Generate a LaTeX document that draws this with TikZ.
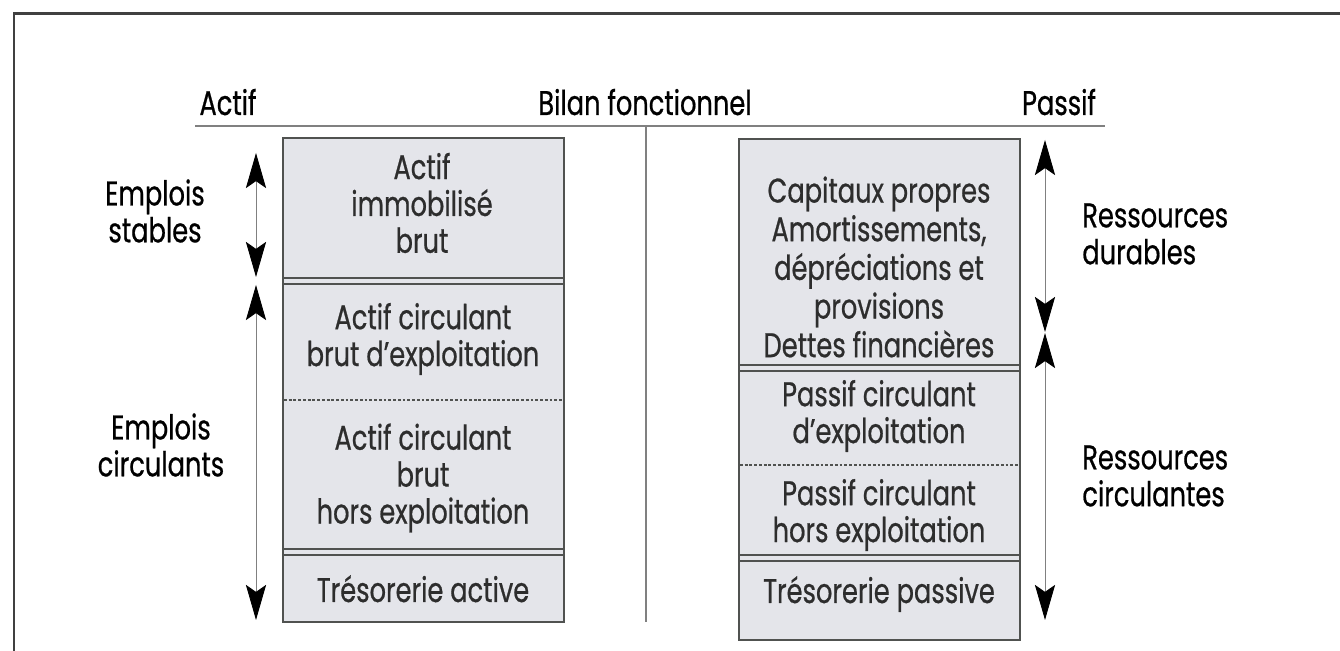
\documentclass[tikz,border=0pt]{standalone}
\usepackage{fontspec}
\setmainfont{Poppins}[FakeStretch=0.75, FakeBold=0.6]
\usepackage{tikz}
\usetikzlibrary{arrows.meta}
\usetikzlibrary{positioning}

\definecolor{boxfill}{RGB}{228,229,234}
\definecolor{boxline}{RGB}{80,82,80}
\definecolor{txtgray}{RGB}{45,45,45}

\begin{document}
\begin{tikzpicture}[x=0.02cm, y=-0.02cm]
	 \tikzstyle{txt}=[inner sep=0pt, align=center, font=\fontsize{19.5pt}{21pt}\selectfont]
	 \tikzstyle{boxtxt}=[txt, text=txtgray]
	 \tikzstyle{head}=[txt, text=black]
	 \tikzstyle{column}=[draw=boxline, line width=1.1pt, fill=boxfill]
	 \tikzstyle{dbl}=[draw=boxline, line width=0.8pt, double=boxfill, double distance=2.4pt]
	 \tikzstyle{dsh}=[draw=boxline, line width=0.6pt, dash pattern=on 1.6pt off 1.1pt]
	 \tikzstyle{rule}=[draw=gray, line width=0.8pt]
	 \tikzstyle{span}=[draw=gray, line width=0.5pt, {Stealth[length=20pt,width=11.5pt,inset=4pt,color=black]}-{Stealth[length=20pt,width=11.5pt,inset=4pt,color=black]}]
	 \useasboundingbox (0,0) rectangle (1340,651);

	 % cadre
	 \draw[draw=black!75, line width=1.7pt] (14,651) -- (14,14) -- (1340,14);

	 % en-tete
	 \node[head, anchor=base] (actif) at (228,115) {Actif};
	 \node[head, anchor=base] (bilan) at (645,115) {Bilan fonctionnel};
	 \node[head, anchor=base] (passif) at (1059,115) {Passif};
	 \draw[rule] (195,126) -- (1105,126);
	 \draw[rule] (646,126) -- (646,622);

	 % actif
	 \draw[column] (283,138) rectangle (564,622);
	 \draw[dbl] (284,281) -- (563,281);
	 \draw[dsh] (284,400) -- (563,400);
	 \draw[dbl] (284,552) -- (563,552);
	 \node[boxtxt] (immo) at (422,203) {Actif\\immobilisé\\brut};
	 \node[boxtxt] (acexp) at (423,339) {Actif circulant\\brut d'exploitation};
	 \node[boxtxt] (achors) at (423,478) {Actif circulant\\brut\\hors exploitation};
	 \node[boxtxt, anchor=base] (tresa) at (423,602) {Trésorerie active};

	 % passif
	 \draw[column] (739,139) rectangle (1020,640);
	 \draw[dbl] (740,368) -- (1019,368);
	 \draw[dsh] (740,465) -- (1019,465);
	 \draw[dbl] (740,558) -- (1019,558);
	 \node[boxtxt, font=\fontsize{19.5pt}{22pt}\selectfont] (capitaux) at (879,267) {Capitaux propres\\Amortissements,\\dépréciations et\\provisions\\Dettes financières};
	 \node[boxtxt] (pcexp) at (879,416) {Passif circulant\\d'exploitation};
	 \node[boxtxt] (pchors) at (879,515) {Passif circulant\\hors exploitation};
	 \node[boxtxt, anchor=base] (tresp) at (879,603) {Trésorerie passive};

	 % emplois / ressources
	 \node[head] (estab) at (155,211) {Emplois\\stables};
	 \node[head] (ecirc) at (161,445) {Emplois\\circulants};
	 \node[head, anchor=west, align=left] (rdur) at (1082,234) {Ressources\\durables};
	 \node[head, anchor=west, align=left] (rcirc) at (1082,476) {Ressources\\circulantes};

	 \coordinate (es1) at (256,153);
	 \coordinate (es2) at (256,277);
	 \coordinate (ec1) at (256,285);
	 \coordinate (ec2) at (256,620);
	 \coordinate (rd1) at (1045,140);
	 \coordinate (rd2) at (1045,332);
	 \coordinate (rc1) at (1045,333);
	 \coordinate (rc2) at (1045,620);
	 \draw[span] (es1) -- (es2);
	 \draw[span] (ec1) -- (ec2);
	 \draw[span] (rd1) -- (rd2);
	 \draw[span] (rc1) -- (rc2);
\end{tikzpicture}
\end{document}
